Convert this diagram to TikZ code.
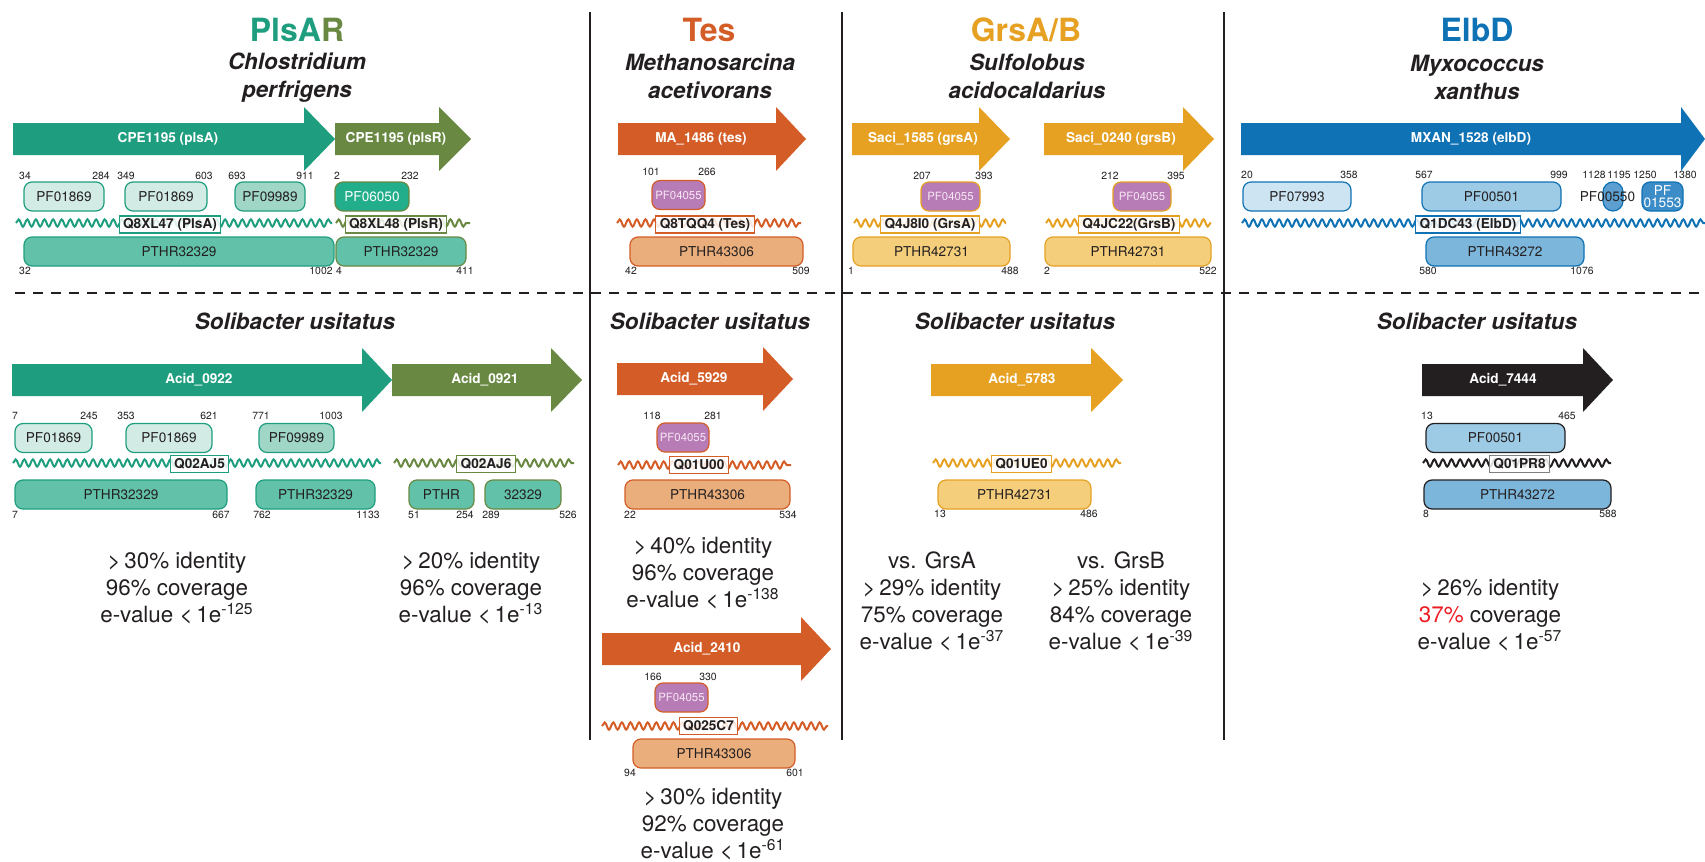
\documentclass[tikz,border=0pt]{standalone}
\usepackage{fontspec}
\setmainfont{TeX Gyre Heros}
\usepackage{tikz}
\usetikzlibrary{decorations.pathmorphing}

\definecolor{ink}{HTML}{231F20}
\definecolor{plsA}{HTML}{1E9E7E}
\definecolor{plsR}{HTML}{698943}
\definecolor{tes}{HTML}{D45D27}
\definecolor{grs}{HTML}{E6A123}
\definecolor{elb}{HTML}{0F72B4}
\definecolor{pfpale}{HTML}{D2EBE4}
\definecolor{pfmid}{HTML}{9FD6C6}
\definecolor{pfdeep}{HTML}{22AE8A}
\definecolor{pthrteal}{HTML}{62C2A9}
\definecolor{radical}{HTML}{B77BB6}
\definecolor{radtext}{HTML}{F6E6F3}
\definecolor{pthrtes}{HTML}{EAAE7D}
\definecolor{pthrgrs}{HTML}{F4CE7B}
\definecolor{elbpale}{HTML}{CDE4F2}
\definecolor{elbmid}{HTML}{9DCAE4}
\definecolor{elbpcp}{HTML}{5C9FD0}
\definecolor{elbacyl}{HTML}{3C8CC7}
\definecolor{pthrelb}{HTML}{7CB6DB}
\definecolor{lowcov}{HTML}{ED1C24}

\tikzset{
title/.style={font=\fontsize{16}{18}\selectfont\bfseries}, % big coloured protein name
species/.style={align=center, text=ink, font=\fontsize{11.2}{14}\selectfont\bfseries\itshape}, % organism name
genelabel/.style={text=white, font=\fontsize{6.8}{8}\selectfont\bfseries}, % name inside a gene arrow
dom/.style={draw, rounded corners=4pt, line width=0.6pt, inner sep=0pt, minimum height=14.5pt, text=ink, font=\fontsize{6.8}{8}\selectfont}, % Pfam and PANTHER boxes
wd/.style={minimum width={#1*0.5pt}}, % box width in layout pixels
radsam/.style={dom, fill=radical, text=radtext, font=\fontsize{5.7}{7}\selectfont}, % PF04055 boxes
acc/.style={draw, fill=white, fill opacity=0.85, text opacity=1, line width=0.6pt, inner xsep=2pt, inner ysep=0pt, minimum height=8.5pt, text=ink, font=\fontsize{6.8}{8}\selectfont\bfseries}, % UniProt accession
wave/.style={decorate, decoration={snake, segment length=4.3pt, amplitude=1.8pt}, line width=1pt}, % protein chain
num/.style={inner sep=0pt, text=ink, font=\fontsize{5.2}{6}\selectfont}, % residue numbers
stats/.style={align=center, text=ink, font=\fontsize{11.2}{13.5}\selectfont}, % identity, coverage, e-value
divider/.style={ink, line width=1pt},
}

% #1 name, #2 colour, #3 tail x, #4 head x, #5 tip x, #6 mid y, #7 label x, #8 label
\newcommand{\genearrow}[8]{%
  \fill[#2] (#3,#6-16) -- (#4,#6-16) -- (#4,#6-32) -- (#5,#6) -- (#4,#6+32) -- (#4,#6+16) -- (#3,#6+16) -- cycle;
  \node[genelabel] (#1) at (#7,#6) {#8};
}

\begin{document}
\begin{tikzpicture}[x=0.5pt, y=-0.5pt]
  \useasboundingbox (0,0) rectangle (1705,862);

  \draw[divider] (590,12) -- (590,740);
  \draw[divider] (842,12) -- (842,740);
  \draw[divider] (1224,12) -- (1224,740);
  \draw[divider, line width=1.4pt, dash pattern=on 5pt off 4pt] (15,293) -- (1705,293);

  \node[title] (tplsar) at (297,30) {\textcolor{plsA}{PlsA}\textcolor{plsR}{R}};
  \node[title, text=tes] (ttes) at (709,30) {Tes};
  \node[title, text=grs] (tgrs) at (1026,30) {GrsA/B};
  \node[title, text=elb] (telbd) at (1477,30) {ElbD};
  \node[species] (scper) at (297,78) {Chlostridium\\perfrigens};
  \node[species] (smace) at (710,76) {Methanosarcina\\acetivorans};
  \node[species] (ssaci) at (1027,76) {Sulfolobus\\acidocaldarius};
  \node[species] (smxan) at (1477,77) {Myxococcus\\xanthus};

  \genearrow{gplsA}{plsA}{13}{304}{335}{139}{168}{CPE1195 (plsA)}
  \genearrow{gplsR}{plsR}{335}{439}{471}{139}{396}{CPE1195 (plsR)}
  \genearrow{gtes}{tes}{618}{776}{806}{139}{701}{MA\_1486 (tes)}
  \genearrow{ggrsA}{grs}{852}{979}{1010}{139}{923}{Saci\_1585 (grsA)}
  \genearrow{ggrsB}{grs}{1044}{1183}{1214}{139}{1121}{Saci\_0240 (grsB)}
  \genearrow{gelbD}{elb}{1241}{1681}{1705}{139}{1471}{MXAN\_1528 (elbD)}

  \foreach \x/\y/\t [count=\i] in {25/176/34, 101/176/284, 126/176/349, 204/176/603, 237/176/693,
      305/176/911, 337/176/2, 410/176/232, 651/172/101, 707/172/266, 922/176/207, 984/176/393,
      1110/176/212, 1176/176/395, 1247/175/20, 1349/175/358, 1424/175/567, 1559/175/999,
      1594/175/1128, 1619/175/1195, 1645/175/1250, 1685/175/1380}
    \node[num] (ua\i) at (\x,\y) {\t};
  \foreach \x/\t [count=\i] in {25/32, 321/1002, 339/4, 465/411, 631/42, 801/509, 851/1,
      1010/488, 1047/2, 1208/522, 1428/580, 1582/1076}
    \node[num] (ub\i) at (\x,271) {\t};

  \node[dom, wd=80, fill=pfpale, draw=plsA] (pa1) at (64,196.5) {PF01869};
  \node[dom, wd=82, fill=pfpale, draw=plsA] (pa2) at (166,196.5) {PF01869};
  \node[dom, wd=70, fill=pfmid, draw=plsA] (pa3) at (270,196.5) {PF09989};
  \node[dom, wd=74, fill=pfdeep, draw=plsR, text=white] (pr1) at (372,196.5) {PF06050};
  \node[radsam, wd=53, draw=tes] (pt1) at (678.5,195) {PF04055};
  \node[radsam, wd=59, draw=grs] (pg1) at (950.5,196.5) {PF04055};
  \node[radsam, wd=58, draw=grs] (pg2) at (1142,196.5) {PF04055};
  \node[dom, wd=108, fill=elbpale, draw=elb] (pe1) at (1297,196.5) {PF07993};
  \node[dom, wd=139, fill=elbmid, draw=elb] (pe2) at (1491.5,196.5) {PF00501};
  \node[dom, wd=20, rounded corners=5pt, fill=elbpcp, draw=elb] (pe3) at (1613,196.5) {};
  \node[inner sep=0pt, text=ink, font=\fontsize{6.8}{8}\selectfont] (pe3t) at (1607.5,196.5) {PF00550};
  \node[dom, wd=41, fill=elbacyl, draw=elb, text=white, align=center, font=\fontsize{6.8}{6.2}\selectfont] (pe4) at (1662.5,196.5) {PF\\01553};

  \node[dom, wd=310, fill=pthrteal, draw=plsA] (ha1) at (179,251.5) {PTHR32329};
  \node[dom, wd=130, fill=pthrteal, draw=plsR] (hr1) at (401,251.5) {PTHR32329};
  \node[dom, wd=173, fill=pthrtes, draw=tes] (ht1) at (716.5,251.5) {PTHR43306};
  \node[dom, wd=157, fill=pthrgrs, draw=grs] (hg1) at (931.5,251.5) {PTHR42731};
  \node[dom, wd=166, fill=pthrgrs, draw=grs] (hg2) at (1128,251.5) {PTHR42731};
  \node[dom, wd=158, fill=pthrelb, draw=elb] (he1) at (1505,251.5) {PTHR43272};

  \draw[wave, plsA] (16,223) -- (332,223);
  \draw[wave, plsR] (336,223) -- (470,223);
  \draw[wave, tes] (617,223) -- (801,223);
  \draw[wave, grs] (854,223) -- (1006,223);
  \draw[wave, grs] (1046,223) -- (1211,223);
  \draw[wave, elb] (1242,223) -- (1705,223);
  \node[acc, draw=plsA] (qa) at (170,224.5) {Q8XL47 (PlsA)};
  \node[acc, draw=plsR] (qr) at (396,224.5) {Q8XL48 (PlsR)};
  \node[acc, draw=tes] (qt) at (705,224.5) {Q8TQQ4 (Tes)};
  \node[acc, draw=grs] (qga) at (930,224.5) {Q4J8I0 (GrsA)};
  \node[acc, draw=grs] (qgb) at (1129,224.5) {Q4JC22(GrsB)};
  \node[acc, draw=elb] (qe) at (1468,224.5) {Q1DC43 (ElbD)};

  % Solibacter usitatus homologues
  \node[species] (sol1) at (295,321) {Solibacter usitatus};
  \node[species] (sol2) at (710,321) {Solibacter usitatus};
  \node[species] (sol3) at (1015,321) {Solibacter usitatus};
  \node[species] (sol4) at (1477,321) {Solibacter usitatus};

  \genearrow{g0922}{plsA}{12}{362}{392}{380}{199}{Acid\_0922}
  \genearrow{g0921}{plsR}{392}{551}{582}{380}{485}{Acid\_0921}
  \genearrow{g5929}{tes}{617}{763}{793}{379}{694}{Acid\_5929}
  \genearrow{g5783}{grs}{931}{1091}{1123}{380}{1022}{Acid\_5783}
  \genearrow{g7444}{ink}{1422}{1583}{1613}{380}{1503}{Acid\_7444}
  \genearrow{g2410}{tes}{602}{801}{831}{649}{707}{Acid\_2410}

  \foreach \x/\y/\t [count=\i] in {15/416/7, 89/416/245, 126/416/353, 209/416/621, 261/416/771,
      331/416/1003, 652/416/118, 713/416/281, 1427/416/13, 1567/416/465, 653/677/166, 708/677/330}
    \node[num] (la\i) at (\x,\y) {\t};
  \foreach \x/\y/\t [count=\i] in {15/515/7, 221/515/667, 262/515/762, 368/515/1133, 414/515/51,
      465/515/254, 491/515/289, 568/515/526, 630/515/22, 788/515/534, 940/514/13, 1089/514/486,
      1426/514/8, 1608/514/588, 630/773/94, 795/773/601}
    \node[num] (lb\i) at (\x,\y) {\t};

  \node[dom, wd=77, fill=pfpale, draw=plsA] (sa1) at (53.5,438) {PF01869};
  \node[dom, wd=86, fill=pfpale, draw=plsA] (sa2) at (169,438) {PF01869};
  \node[dom, wd=75, fill=pfmid, draw=plsA] (sa3) at (296.5,438) {PF09989};
  \node[radsam, wd=52, draw=tes] (st1) at (683,437.5) {PF04055};
  \node[radsam, wd=53, draw=tes] (st2) at (681.5,697.5) {PF04055};
  \node[dom, wd=139, fill=elbmid, draw=ink] (se1) at (1495.5,438) {PF00501};

  \node[dom, wd=212, fill=pthrteal, draw=plsA] (sha1) at (121,494.5) {PTHR32329};
  \node[dom, wd=119, fill=pthrteal, draw=plsA] (sha2) at (315.5,494.5) {PTHR32329};
  \node[dom, wd=65, fill=pthrteal, draw=plsR] (shr1) at (441.5,494.5) {PTHR};
  \node[dom, wd=76, fill=pthrteal, draw=plsR] (shr2) at (523,494.5) {32329};
  \node[dom, wd=165, fill=pthrtes, draw=tes] (sht1) at (707.5,494.5) {PTHR43306};
  \node[dom, wd=162, fill=pthrtes, draw=tes] (sht2) at (714,753.5) {PTHR43306};
  \node[dom, wd=153, fill=pthrgrs, draw=grs] (shg) at (1014.5,494.5) {PTHR42731};
  \node[dom, wd=187, fill=pthrelb, draw=ink] (she) at (1517.5,494.5) {PTHR43272};

  \draw[wave, plsA] (13,463) -- (381,463);
  \draw[wave, plsR] (394,463) -- (574,463);
  \draw[wave, tes] (618,465) -- (791,465);
  \draw[wave, tes] (602,726) -- (828,726);
  \draw[wave, grs] (933,463) -- (1121,463);
  \draw[wave, ink] (1423,463) -- (1611,463);
  \node[acc, draw=plsA] (sqa) at (199.5,464) {Q02AJ5};
  \node[acc, draw=plsR] (sqr) at (486,464) {Q02AJ6};
  \node[acc, draw=tes] (sqt1) at (699,465) {Q01U00};
  \node[acc, draw=tes] (sqt2) at (708.5,726) {Q025C7};
  \node[acc, draw=grs] (sqg) at (1021.5,464) {Q01UE0};
  \node[acc, draw=gray] (sqe) at (1519.5,464) {Q01PR8};

  \node[stats] (spa) at (177,588) {>\,30\% identity\\96\% coverage\\e-value <\,1e\textsuperscript{-125}};
  \node[stats] (spr) at (471,588) {>\,20\% identity\\96\% coverage\\e-value <\,1e\textsuperscript{-13}};
  \node[stats] (ste1) at (703,573) {>\,40\% identity\\96\% coverage\\e-value <\,1e\textsuperscript{-138}};
  \node[stats] (ste2) at (713,824) {>\,30\% identity\\92\% coverage\\e-value <\,1e\textsuperscript{-61}};
  \node[stats] (sga) at (932,601.5) {vs. GrsA\\>\,29\% identity\\75\% coverage\\e-value <\,1e\textsuperscript{-37}};
  \node[stats] (sgb) at (1121,601.5) {vs. GrsB\\>\,25\% identity\\84\% coverage\\e-value <\,1e\textsuperscript{-39}};
  \node[stats] (sel) at (1490,615) {>\,26\% identity\\\textcolor{lowcov}{37\%} coverage\\e-value <\,1e\textsuperscript{-57}};
\end{tikzpicture}
\end{document}
